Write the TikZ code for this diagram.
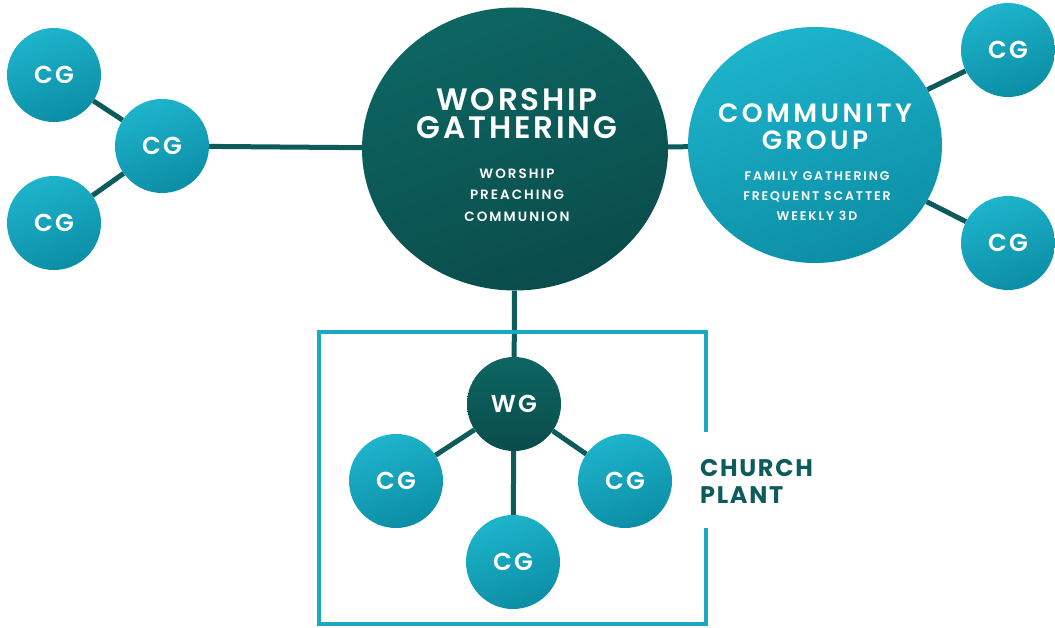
\documentclass[tikz,border=0pt]{standalone}
\usepackage{fontspec}
\setmainfont{Poppins}[BoldFont={Poppins SemiBold}]
\newfontfamily\titlefont{Poppins SemiBold}[LetterSpace=9]
\newfontfamily\subfont{Poppins SemiBold}[LetterSpace=15]
\newfontfamily\plantfont{Poppins Bold}[LetterSpace=7]
\usetikzlibrary{shapes.geometric,positioning}
\definecolor{cglight}{HTML}{1DB4CC}
\definecolor{cgdeep}{HTML}{0C8EA5}
\definecolor{wglight}{HTML}{0D6662}
\definecolor{wgdeep}{HTML}{0A4C4B}
\definecolor{linkteal}{HTML}{0E5B5C}
\definecolor{framteal}{HTML}{1BA9C2}
\tikzset{
  cg/.style={circle, minimum size=94pt, inner sep=0pt, top color=cglight, bottom color=cgdeep, shading angle=20,
    text=white, font=\fontsize{24.5}{24}\titlefont},
  wgsmall/.style={cg, top color=wglight, bottom color=wgdeep},
  link/.style={draw=linkteal, line width=5pt},
  bigtitle/.style={text=white, align=center, inner sep=0pt},
  subline/.style={text=white, align=center, inner sep=0pt, font=\fontsize{13.5}{21.5}\subfont},
}
\begin{document}
\begin{tikzpicture}[x=1pt,y=-1pt]
\useasboundingbox (0,0) rectangle (1055,628);
% main circles
\node[ellipse, minimum width=306pt, minimum height=283pt, top color=wglight, bottom color=wgdeep, shading angle=20] (wg) at (515,149) {};
\node[ellipse, minimum width=254pt, minimum height=236pt, top color=cglight, bottom color=cgdeep, shading angle=20] (cgrp) at (815,145) {};
\node[bigtitle, font=\fontsize{31}{28}\titlefont] (wgTitle) at (517,114) {WORSHIP\\GATHERING};
\node[subline] (wgSub) at (517,195) {WORSHIP\\PREACHING\\COMMUNION};
\node[bigtitle, font=\fontsize{26.5}{27}\titlefont\addfontfeature{LetterSpace=13}] (cgrpTitle) at (815,127) {COMMUNITY\\GROUP};
\node[subline, font=\fontsize{12.5}{20}\subfont] (cgrpSub) at (817,196) {FAMILY GATHERING\\FREQUENT SCATTER\\WEEKLY 3D};
% left cluster
\node[cg] (cgL) at (162,146) {CG};
\node[cg] (cgLa) at (54,75) {CG};
\node[cg] (cgLb) at (54,223) {CG};
% right pair
\node[cg] (cgRa) at (1008,50) {CG};
\node[cg] (cgRb) at (1008,243) {CG};
% church plant
\node[wgsmall] (wgs) at (514,404) {WG};
\node[cg] (cpA) at (396,481) {CG};
\node[cg] (cpB) at (625,481) {CG};
\node[cg] (cpC) at (513,562) {CG};
\node[anchor=west, align=left, inner sep=0pt, text=linkteal, font=\fontsize{24}{27}\plantfont] (plant) at (700,481) {CHURCH\\PLANT};

\draw[link] (cgL) -- (wg);
\draw[link] (cgL) -- (cgLa);
\draw[link] (cgL) -- (cgLb);
\draw[link] (wg) -- (cgrp);
\draw[link] (cgrp) -- (cgRa);
\draw[link] (cgrp) -- (cgRb);
\draw[link] (wg) -- (wgs);
\draw[link] (wgs) -- (cpA);
\draw[link] (wgs) -- (cpB);
\draw[link] (wgs) -- (cpC);

% frame with gap
\draw[framteal, line width=4pt] (706,432) -- (706,332) -- (319,332) -- (319,624) -- (706,624) -- (706,528);
\end{tikzpicture}
\end{document}
